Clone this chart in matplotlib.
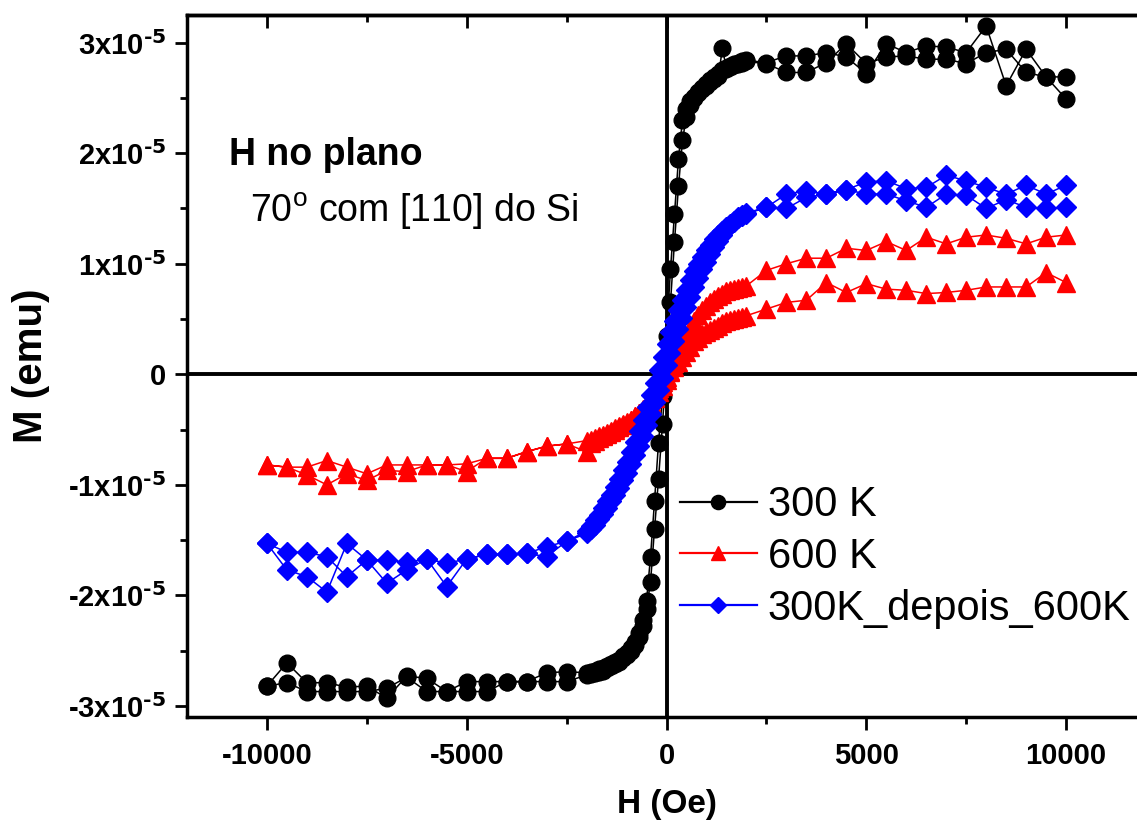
import numpy as np
import matplotlib
matplotlib.use('Agg')
import matplotlib.pyplot as plt
from matplotlib.ticker import MultipleLocator, FuncFormatter

# field grid (Oe), written from +10000 down to -10000
H_pos = [10000, 9500, 9000, 8500, 8000, 7500, 7000, 6500, 6000, 5500, 5000, 4500, 4000, 3500, 3000, 2500]
H_mid = [2000, 1900, 1800, 1700, 1600, 1500, 1400, 1300, 1200, 1100, 1000, 900, 800, 700, 600, 500, 400, 300, 200, 100,
         0, -100, -200, -300, -400, -500, -600, -700, -800, -900, -1000, -1100, -1200, -1300, -1400, -1500, -1600,
         -1700, -1800, -1900, -2000]
H_neg = [-2500, -3000, -3500, -4000, -4500, -5000, -5500, -6000, -6500, -7000, -7500, -8000, -8500, -9000, -9500, -10000]

# M in units of 1e-5 emu, every list ordered like the field grid
# 300 K, decreasing field
m300_dn_pos = [2.49, 2.69, 2.94, 2.61, 3.15, 2.91, 2.96, 2.97, 2.91, 2.99, 2.72, 2.87, 2.91, 2.88, 2.88, 2.82]
m300_dn_mid = [2.84, 2.83, 2.82, 2.81, 2.79, 2.77, 2.75, 2.72, 2.69, 2.66, 2.63, 2.59, 2.55, 2.51, 2.47, 2.40, 2.30,
               1.95, 1.45, 0.95, 0.35, -0.20, -0.62, -1.15, -1.65, -2.05, -2.22, -2.34, -2.42, -2.48, -2.52, -2.55,
               -2.58, -2.60, -2.62, -2.64, -2.66, -2.67, -2.68, -2.69, -2.70]
m300_dn_neg = [-2.69, -2.70, -2.78, -2.78, -2.78, -2.78, -2.87, -2.75, -2.73, -2.93, -2.82, -2.83, -2.79, -2.79, -2.61, -2.82]
# 300 K, increasing field
m300_up_pos = [2.69, 2.69, 2.73, 2.94, 2.91, 2.81, 2.85, 2.85, 2.88, 2.87, 2.81, 2.99, 2.82, 2.73, 2.73, 2.81]
m300_up_mid = [2.83, 2.82, 2.81, 2.80, 2.78, 2.76, 2.95, 2.70, 2.67, 2.64, 2.61, 2.58, 2.54, 2.50, 2.44, 2.33, 2.12,
               1.70, 1.20, 0.65, 0.10, -0.45, -0.95, -1.40, -1.88, -2.12, -2.28, -2.38, -2.45, -2.50, -2.54, -2.57,
               -2.60, -2.62, -2.64, -2.66, -2.68, -2.69, -2.70, -2.71, -2.72]
m300_up_neg = [-2.78, -2.78, -2.78, -2.78, -2.87, -2.87, -2.87, -2.87, -2.74, -2.84, -2.87, -2.87, -2.87, -2.87, -2.79, -2.82]

# 600 K
m600_dn_pos = [1.26, 1.24, 1.18, 1.23, 1.26, 1.24, 1.18, 1.24, 1.12, 1.20, 1.12, 1.14, 1.05, 1.05, 1.00, 0.94]
m600_dn_mid = [0.80, 0.79, 0.78, 0.77, 0.76, 0.75, 0.73, 0.71, 0.68, 0.65, 0.62, 0.58, 0.54, 0.48, 0.42, 0.35, 0.27,
               0.19, 0.10, 0.02, -0.05, -0.11, -0.16, -0.21, -0.25, -0.29, -0.32, -0.35, -0.38, -0.41, -0.43, -0.45,
               -0.47, -0.49, -0.51, -0.53, -0.55, -0.56, -0.58, -0.59, -0.60]
m600_dn_neg = [-0.63, -0.65, -0.70, -0.76, -0.76, -0.81, -0.82, -0.82, -0.82, -0.82, -0.90, -0.84, -0.78, -0.84, -0.84, -0.82]
m600_up_pos = [0.83, 0.92, 0.79, 0.79, 0.79, 0.76, 0.74, 0.73, 0.76, 0.77, 0.82, 0.74, 0.83, 0.67, 0.65, 0.59]
m600_up_mid = [0.53, 0.52, 0.51, 0.50, 0.49, 0.48, 0.46, 0.44, 0.42, 0.40, 0.38, 0.36, 0.33, 0.30, 0.25, 0.20, 0.16,
               0.11, 0.07, 0.03, -0.02, -0.07, -0.12, -0.17, -0.22, -0.27, -0.31, -0.35, -0.38, -0.41, -0.44, -0.46,
               -0.48, -0.50, -0.52, -0.54, -0.56, -0.58, -0.60, -0.62, -0.70]
m600_up_neg = [-0.63, -0.65, -0.70, -0.76, -0.76, -0.88, -0.82, -0.82, -0.88, -0.87, -0.96, -0.90, -1.00, -0.91, -0.84, -0.82]

# 300 K after 600 K
mdep_dn_pos = [1.71, 1.63, 1.71, 1.63, 1.69, 1.75, 1.80, 1.69, 1.68, 1.75, 1.74, 1.67, 1.63, 1.66, 1.63, 1.51]
mdep_dn_mid = [1.46, 1.44, 1.42, 1.39, 1.36, 1.33, 1.30, 1.26, 1.22, 1.17, 1.12, 1.06, 1.00, 0.93, 0.85, 0.76, 0.67,
               0.58, 0.48, 0.38, 0.27, 0.16, 0.04, -0.08, -0.19, -0.30, -0.41, -0.51, -0.61, -0.70, -0.79, -0.87,
               -0.95, -1.02, -1.09, -1.15, -1.21, -1.27, -1.32, -1.37, -1.42]
mdep_dn_neg = [-1.51, -1.56, -1.62, -1.63, -1.63, -1.67, -1.71, -1.67, -1.70, -1.68, -1.68, -1.83, -1.65, -1.61, -1.61, -1.53]
mdep_up_pos = [1.51, 1.50, 1.51, 1.58, 1.50, 1.62, 1.63, 1.51, 1.57, 1.63, 1.63, 1.67, 1.63, 1.60, 1.50, 1.51]
mdep_up_mid = [1.45, 1.43, 1.41, 1.38, 1.35, 1.31, 1.26, 1.21, 1.15, 1.09, 1.02, 0.95, 0.87, 0.79, 0.70, 0.61, 0.51,
               0.41, 0.30, 0.19, 0.08, -0.03, -0.14, -0.25, -0.36, -0.46, -0.56, -0.65, -0.73, -0.81, -0.89, -0.96,
               -1.03, -1.09, -1.15, -1.21, -1.26, -1.31, -1.36, -1.40, -1.44]
mdep_up_neg = [-1.51, -1.65, -1.62, -1.63, -1.63, -1.67, -1.92, -1.67, -1.77, -1.89, -1.68, -1.53, -1.97, -1.83, -1.77, -1.53]

labels = ['300 K', '600 K', '300K_depois_600K']

plt.rcParams['font.family'] = ['Liberation Sans', 'DejaVu Sans']
plt.rcParams['font.weight'] = 'bold'
plt.rcParams['axes.unicode_minus'] = False
plt.rcParams['mathtext.default'] = 'regular'


def loop(dn, up):
    # full loop: +10 kOe -> -10 kOe, then back up
    H_dn = np.array(H_pos + H_mid + H_neg)
    M_dn = np.array(dn[0] + dn[1] + dn[2])
    M_up = np.array(up[0] + up[1] + up[2])
    H = np.concatenate([H_dn, H_dn[::-1]])
    M = np.concatenate([M_dn, M_up[::-1]]) * 1e-5
    return H, M


curves = [
    (loop((m300_dn_pos, m300_dn_mid, m300_dn_neg), (m300_up_pos, m300_up_mid, m300_up_neg)), 'black', 'o', 12),
    (loop((m600_dn_pos, m600_dn_mid, m600_dn_neg), (m600_up_pos, m600_up_mid, m600_up_neg)), 'red', '^', 12.5),
    (loop((mdep_dn_pos, mdep_dn_mid, mdep_dn_neg), (mdep_up_pos, mdep_up_mid, mdep_up_neg)), 'blue', 'D', 10),
]

fig = plt.figure(figsize=(11.37, 8.21), dpi=100)
ax = fig.add_axes([187/1137, 104/821, 959/1137, 702/821])

ax.axhline(0, color='black', lw=2.8, zorder=1)
ax.axvline(0, color='black', lw=2.8, zorder=1)

handles = []
for ((H, M), c, mk, ms), lab in zip(curves, labels):
    ln, = ax.plot(H, M, color=c, marker=mk, ms=ms, mec=c, mfc=c, lw=1.1, zorder=2, label=lab)
    handles.append(ln)

ax.set_xlim(-12000, 12000)
ax.set_ylim(-3.1e-5, 3.25e-5)

ax.xaxis.set_major_locator(MultipleLocator(5000))
ax.xaxis.set_minor_locator(MultipleLocator(2500))
ax.yaxis.set_major_locator(MultipleLocator(1e-5))
ax.yaxis.set_minor_locator(MultipleLocator(0.5e-5))


def yfmt(v, pos):
    n = int(round(v * 1e5))
    if n == 0:
        return '0'
    return r'%dx10$^{\text{-5}}$' % n


ax.yaxis.set_major_formatter(FuncFormatter(yfmt))
ax.tick_params(which='major', direction='out', length=9, width=2, labelsize=21)
ax.tick_params(which='minor', direction='out', length=5, width=2)
ax.tick_params(axis='x', pad=9)
ax.tick_params(axis='y', pad=6)

top = ax.secondary_xaxis('top')
top.xaxis.set_major_locator(MultipleLocator(5000))
top.xaxis.set_minor_locator(MultipleLocator(2500))
top.tick_params(which='major', direction='in', length=9, width=2, labeltop=False)
top.tick_params(which='minor', direction='in', length=5, width=2)

for sp in list(ax.spines.values()) + list(top.spines.values()):
    sp.set_linewidth(2.5)

ax.set_xlabel('H (Oe)', fontsize=24, fontweight='bold')
ax.xaxis.set_label_coords(0.5, -0.1026)
ax.set_ylabel('M (emu)', fontsize=29, fontweight='bold')
ax.yaxis.set_label_coords(-0.143, 0.5)

ax.text(0.0438, 0.786, 'H no plano', transform=ax.transAxes, fontsize=27, fontweight='bold', va='baseline')
ax.text(0.0657, 0.705, '70$^{o}$ com [110] do Si', transform=ax.transAxes, fontsize=27,
        fontweight='normal', va='baseline')

leg = ax.legend(handles=handles, loc='upper left', bbox_to_anchor=(0.514, 0.33), frameon=False,
                handlelength=1.85, handletextpad=0.26, labelspacing=0.28, borderaxespad=0, borderpad=0,
                markerscale=0.85, prop={'size': 30, 'weight': 'normal'})
for ln in leg.get_lines():
    ln.set_linewidth(1.6)

fig.savefig('out.png', dpi=100)
